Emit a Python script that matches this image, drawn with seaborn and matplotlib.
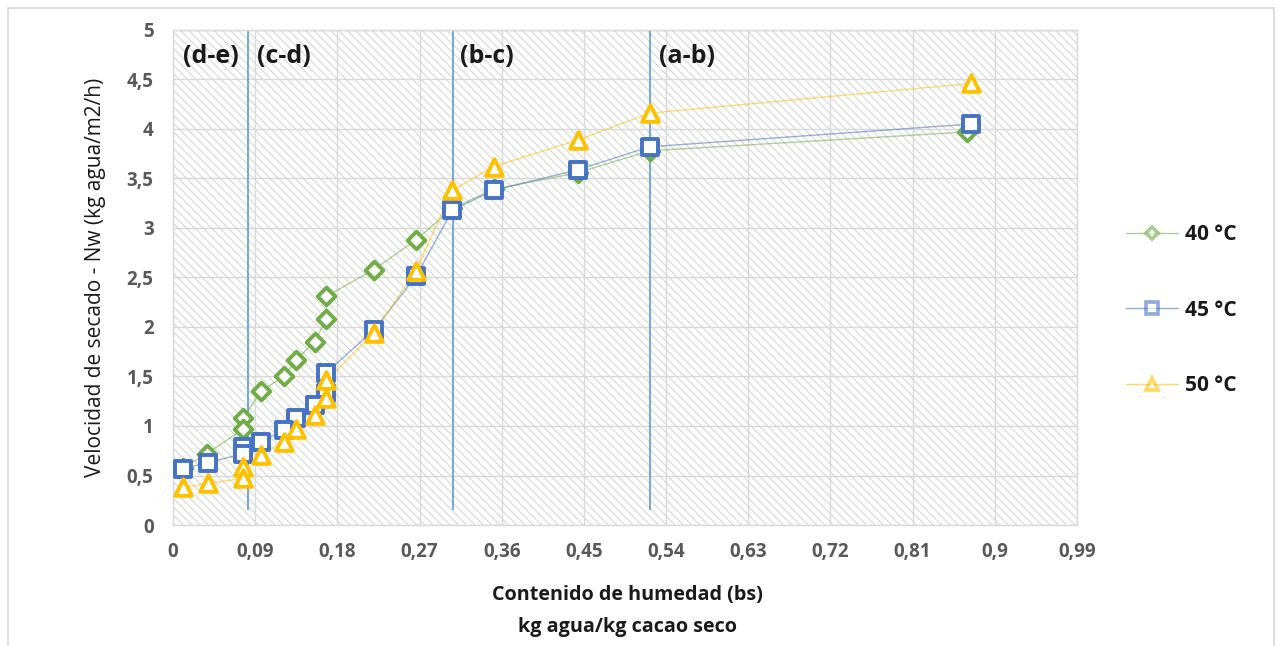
import matplotlib
matplotlib.use("Agg")
import matplotlib.pyplot as plt
from matplotlib.patches import Rectangle
from matplotlib.lines import Line2D
import seaborn as sns
import pandas as pd

# Moisture content (kg water / kg dry cocoa) and drying rate per temperature
x_40 = [0.870, 0.522, 0.444, 0.351, 0.306, 0.266, 0.220, 0.168, 0.168, 0.155,
        0.135, 0.1215, 0.096, 0.077, 0.077, 0.037, 0.0113]
nw_40 = [3.97, 3.78, 3.56, 3.39, 3.20, 2.88, 2.58, 2.31, 2.08, 1.85,
         1.67, 1.50, 1.35, 1.08, 0.97, 0.72, 0.58]

x_45 = [0.8745, 0.522, 0.444, 0.351, 0.306, 0.266, 0.220, 0.168, 0.168, 0.155,
        0.135, 0.1215, 0.096, 0.077, 0.077, 0.038, 0.0113]
nw_45 = [4.05, 3.82, 3.59, 3.38, 3.18, 2.51, 1.97, 1.54, 1.33, 1.21,
         1.08, 0.96, 0.84, 0.79, 0.72, 0.63, 0.57]

x_50 = [0.8745, 0.522, 0.444, 0.351, 0.306, 0.266, 0.220, 0.168, 0.168, 0.155,
        0.135, 0.1215, 0.096, 0.077, 0.077, 0.038, 0.0113]
nw_50 = [4.46, 4.16, 3.89, 3.62, 3.38, 2.57, 1.94, 1.46, 1.28, 1.11,
         0.97, 0.84, 0.71, 0.59, 0.47, 0.42, 0.38]

series_labels = ["40 °C", "45 °C", "50 °C"]
x_ticks = [0, 0.09, 0.18, 0.27, 0.36, 0.45, 0.54, 0.63, 0.72, 0.81, 0.9, 0.99]
x_tick_labels = ["0", "0,09", "0,18", "0,27", "0,36", "0,45", "0,54", "0,63",
                 "0,72", "0,81", "0,9", "0,99"]
y_ticks = [0, 0.5, 1, 1.5, 2, 2.5, 3, 3.5, 4, 4.5, 5]
y_tick_labels = ["0", "0,5", "1", "1,5", "2", "2,5", "3", "3,5", "4", "4,5", "5"]

# Drying-period boundaries and their labels
phase_x = [0.0825, 0.307, 0.522]
phase_labels = ["(d-e)", "(c-d)", "(b-c)", "(a-b)"]
phase_label_x = [0.011, 0.092, 0.314, 0.532]

sns.set_theme(style="white")
plt.rcParams["font.family"] = ["Open Sans", "DejaVu Sans"]
plt.rcParams["hatch.linewidth"] = 0.7
plt.rcParams["hatch.color"] = "#D2D2D2"

fig = plt.figure(figsize=(12.82, 6.46), dpi=100)
ax = fig.add_axes([0.135, 0.1873, 0.705, 0.7663])

# Outer chart border
fig.patches.append(Rectangle((8 / 1282, -0.01), 1266 / 1282, 1 - 8 / 646 + 0.01,
                             transform=fig.transFigure, fill=False,
                             edgecolor="#D9D9D9", linewidth=1.2))

# Hatched plot area
ax.add_patch(Rectangle((0, 0), 1, 1, transform=ax.transAxes, facecolor="white",
                       edgecolor="#D2D2D2", hatch="\\\\\\\\", linewidth=0, zorder=0))

colors = ["#70AD47", "#4472C4", "#FFC000"]
markers = ["D", "s", "^"]
msizes = [9, 12, 12]
data_sets = [(x_40, nw_40), (x_45, nw_45), (x_50, nw_50)]

for (xs, ys), lab, c, m, ms in zip(data_sets, series_labels, colors, markers, msizes):
    df = pd.DataFrame({"x": xs, "y": ys})
    sns.lineplot(data=df, x="x", y="y", ax=ax, sort=False, estimator=None,
                 color=c, alpha=0.55, linewidth=1.0, zorder=3)
    ax.scatter(df["x"], df["y"], marker=m, s=ms ** 2, facecolor="white",
               edgecolor=c, linewidth=2.8, zorder=4)

ax.vlines(phase_x, 0.15, 5, color="#5B9BD5", linewidth=1.2, zorder=2)
for lx, lt in zip(phase_label_x, phase_labels):
    ax.text(lx, 4.73, lt, ha="left", va="center", fontsize=18,
            fontweight="bold", color="#1A1A1A", zorder=5)

ax.set_xlim(0, 0.99)
ax.set_ylim(0, 5)
ax.set_xticks(x_ticks)
ax.set_xticklabels(x_tick_labels)
ax.set_yticks(y_ticks)
ax.set_yticklabels(y_tick_labels)
ax.tick_params(axis="both", length=0, labelsize=13.5, labelcolor="#595959")
ax.tick_params(axis="x", pad=12)
ax.tick_params(axis="y", pad=14)
for t in ax.get_xticklabels() + ax.get_yticklabels():
    t.set_fontweight("bold")
ax.grid(True, color="#D9D9D9", linewidth=1.0)
ax.set_axisbelow(True)
for s in ax.spines.values():
    s.set_color("#D9D9D9")
    s.set_linewidth(1.0)

ax.set_xlabel("Contenido de humedad (bs)\nkg agua/kg cacao seco", fontsize=14.2,
              fontweight="bold", color="#1A1A1A", linespacing=1.75)
ax.xaxis.set_label_coords(0.503, -0.122)
ax.set_ylabel("Velocidad de secado - Nw (kg agua/m2/h)", fontsize=15,
              color="#1A1A1A")
ax.yaxis.set_label_coords(-0.074, 0.5)

handles = [Line2D([0], [0], color=c, alpha=0.6, linewidth=1.0, marker=m,
                  markersize=ms * 0.72, markerfacecolor="white",
                  markeredgecolor=c, markeredgewidth=2.6)
           for c, m, ms in zip(colors, markers, msizes)]
leg = ax.legend(handles, series_labels, loc="center left",
                bbox_to_anchor=(1.054, 0.434), frameon=False, fontsize=15,
                labelspacing=2.6, handlelength=2.5, handletextpad=0.35,
                borderpad=0, borderaxespad=0)
for t in leg.get_texts():
    t.set_fontweight("bold")
    t.set_color("#1A1A1A")

fig.savefig("out.png", dpi=100)
